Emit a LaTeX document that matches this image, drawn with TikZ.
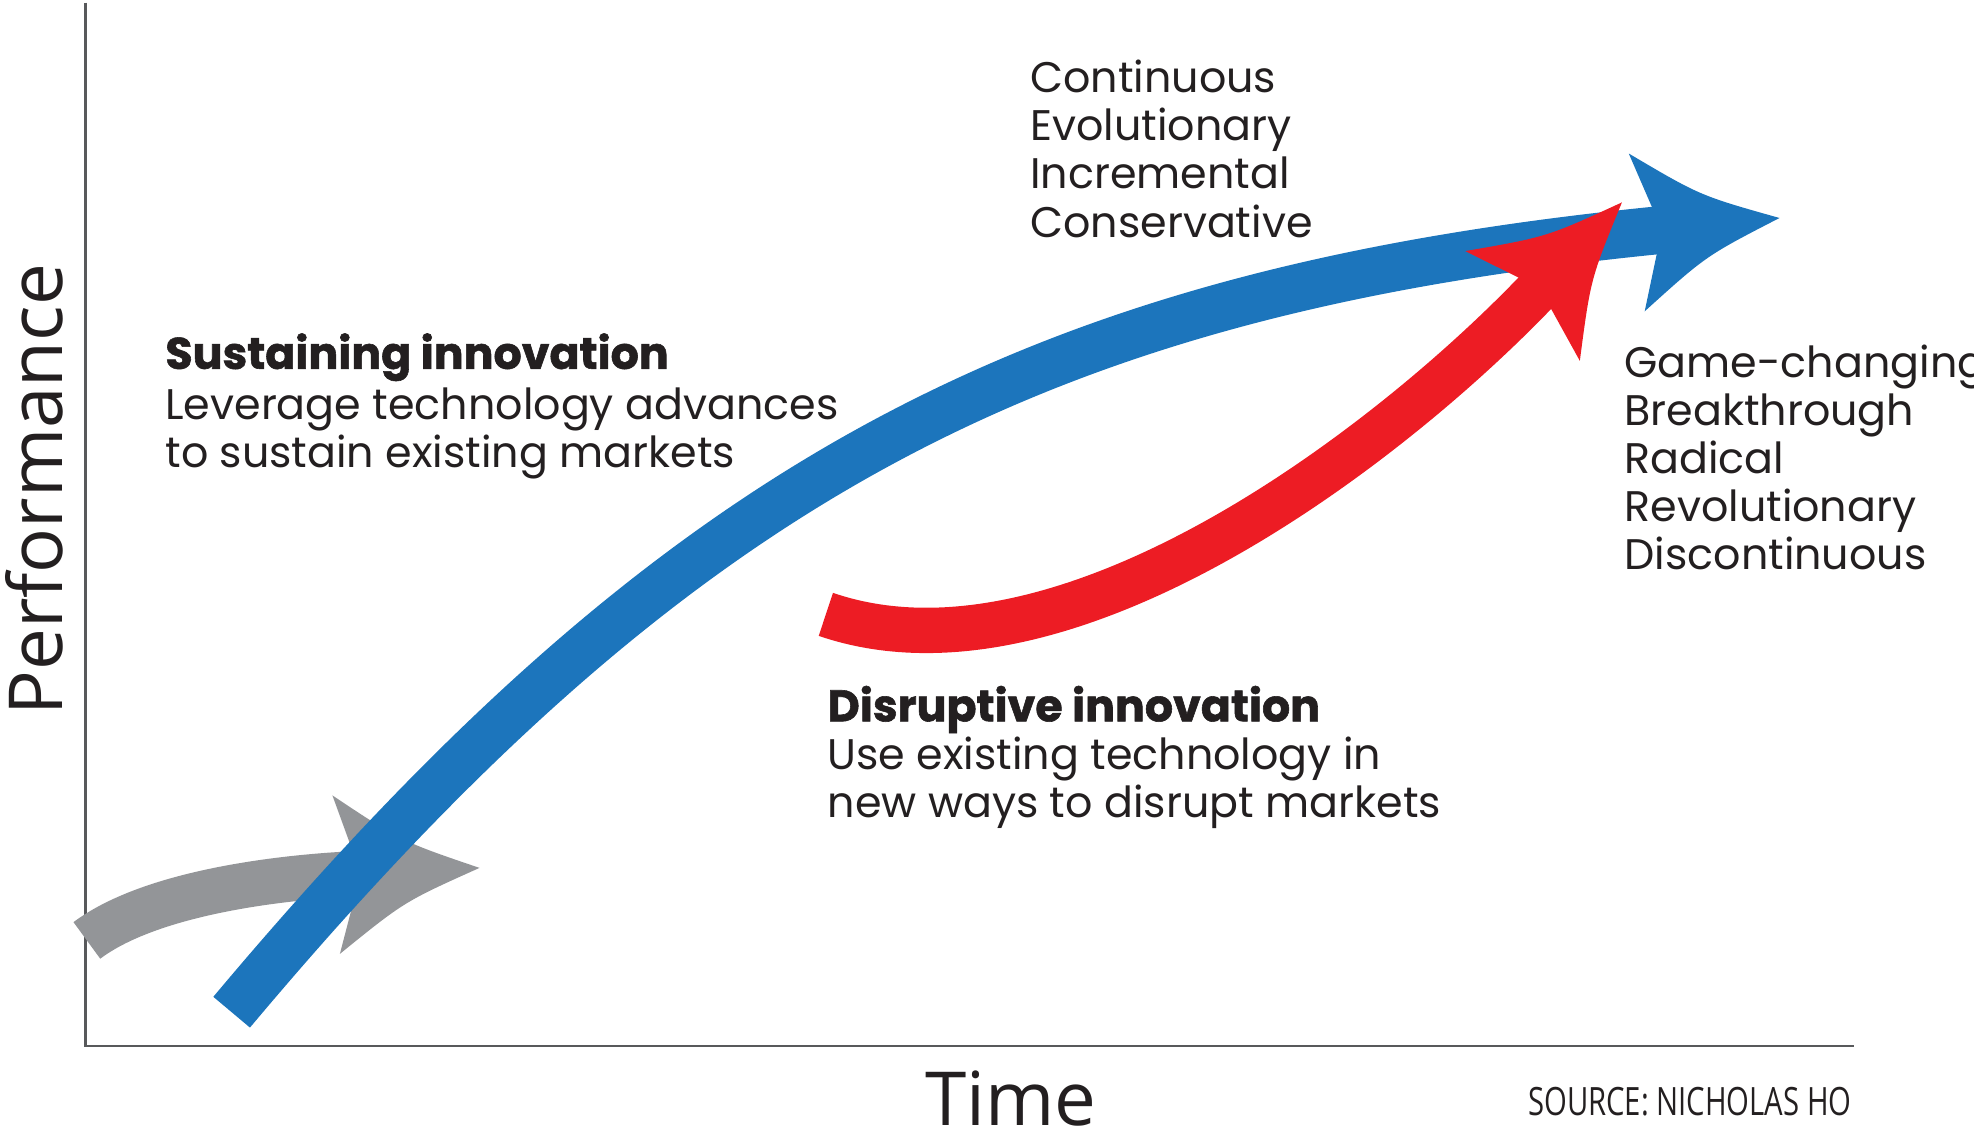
\documentclass[tikz,border=0pt]{standalone}
\usepackage{fontspec}
\usepackage{graphicx}
\setmainfont{Poppins}
\newfontfamily\heavyfont{Poppins}[FakeBold=1.3]
\newfontfamily\labelfont{Open Sans}
\definecolor{sblue}{HTML}{1C75BC}
\definecolor{sred}{HTML}{ED1C24}
\definecolor{sgray}{HTML}{939598}
\definecolor{axisc}{HTML}{58595B}
\definecolor{txt}{HTML}{231F20}
% arrow head: colour, base x, base y, canvas angle, notch half width
\newcommand{\ArrowHead}[5]{%
  \fill[#1, shift={(#2,#3)}, rotate=#4]
    (-2,-#5) -- (-16,-63) .. controls (37,-24) .. (98,0)
    .. controls (37,24) .. (-16,63) -- (-2,#5) -- cycle;}
\begin{document}
\begin{tikzpicture}[x=0.5pt,y=-0.5pt,
  body/.style={font=\fontsize{17}{20}\selectfont, text=txt, anchor=base west, inner sep=0pt},
  heading/.style={font=\heavyfont\fontsize{17.6}{20}\selectfont\bfseries, text=txt, anchor=base west, inner sep=0pt},
  axislabel/.style={font=\labelfont\fontsize{29.6}{32}\selectfont, text=txt, inner sep=0pt},
  axisline/.style={draw=axisc, line width=1pt},
  shaft/.style={line cap=butt}]
\useasboundingbox (0,0) rectangle (1568,899);

% axes
\coordinate (ytop) at (68,2);
\coordinate (origin) at (68,831);
\coordinate (xend) at (1473,831);
\draw[axisline] (ytop) -- (origin) -- (xend);

% grey arrow
\coordinate (g0) at (69,747);
\coordinate (gb) at (283,694);
\draw[shaft, sgray, line width=18pt] (g0) .. controls (117,711) and (213,697.3) .. (gb);
\ArrowHead{sgray}{283}{694}{2.7}{18}

% blue arrow
\coordinate (b0) at (184,804);
\coordinate (bb) at (1316,183);
\draw[shaft, sblue, line width=19pt] (b0) .. controls (538,382) and (818.5,233) .. (bb);
\ArrowHead{sblue}{1316}{183}{5.77}{19}

% red arrow
\coordinate (r0) at (656,488);
\coordinate (rb) at (1220.5,231.5);
\draw[shaft, sred, line width=18pt] (r0) .. controls (845,553) and (1102.9,354.3) .. (rb);
\ArrowHead{sred}{1220.5}{231.5}{46.2}{18}

% texts
\node[body] (c1) at (818,73.5) {Continuous};
\node[body] (c2) at (818,111.8) {Evolutionary};
\node[body] (c3) at (818,150.1) {Incremental};
\node[body] (c4) at (818,188.5) {Conservative};

\node[heading] (s0) at (131,293) {Sustaining innovation};
\node[body] (s1) at (131,333) {Leverage technology advances};
\node[body] (s2) at (131,371) {to sustain existing markets};

\node[heading] (d0) at (657,573) {Disruptive innovation};
\node[body] (d1) at (657,611.5) {Use existing technology in};
\node[body] (d2) at (657,649.5) {new ways to disrupt markets};

\node[body] (k1) at (1290,299.5) {Game-changing};
\node[body] (k2) at (1290,337.7) {Breakthrough};
\node[body] (k3) at (1290,376) {Radical};
\node[body] (k4) at (1290,414.2) {Revolutionary};
\node[body] (k5) at (1290,452.5) {Discontinuous};

\node[axislabel, anchor=base] (time) at (803,894) {Time};
\node[axislabel, anchor=base, rotate=90] (perf) at (50,389) {Performance};
\node[anchor=base east, inner sep=0pt, text=txt] (src) at (1471,886)
  {\scalebox{0.75}[1]{\labelfont\fontsize{15.5}{16}\selectfont SOURCE: NICHOLAS HO}};
\end{tikzpicture}
\end{document}
